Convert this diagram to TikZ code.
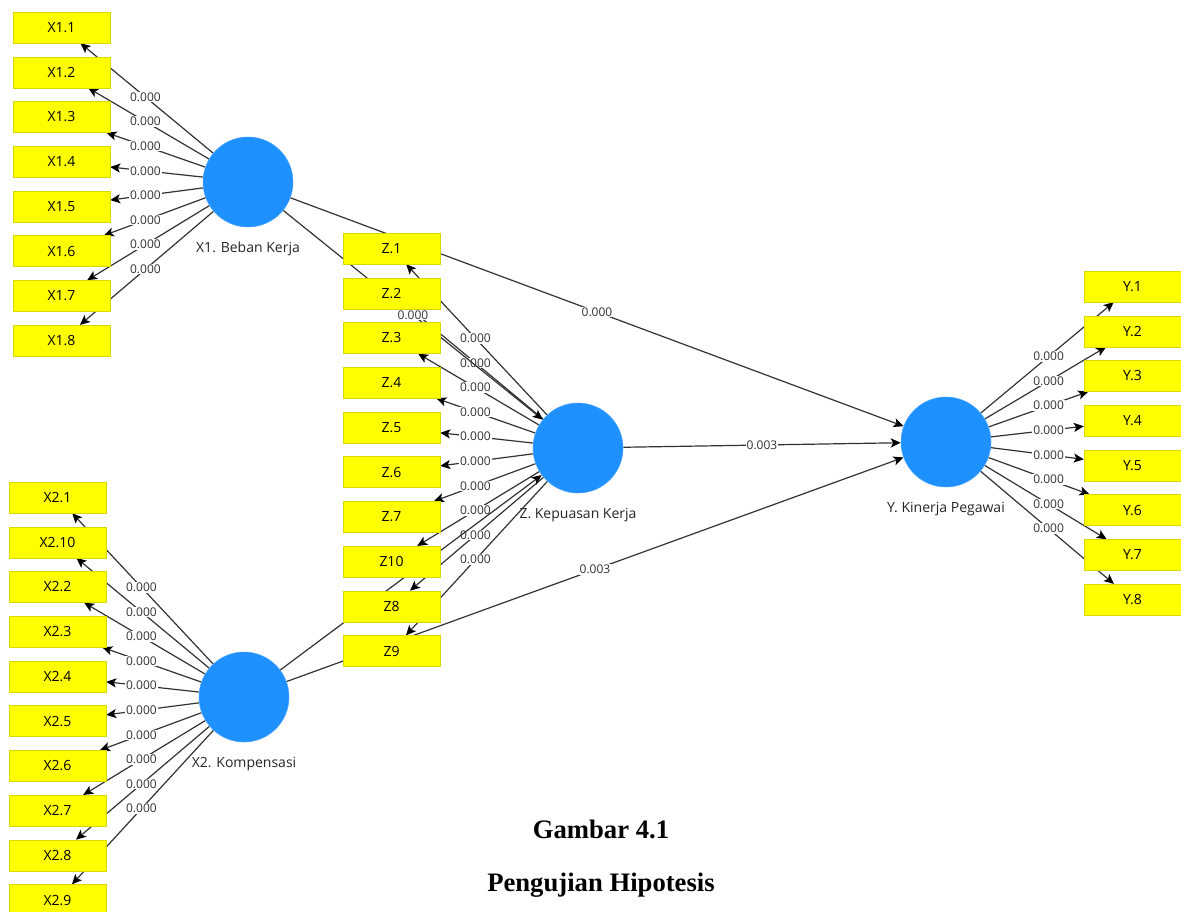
\documentclass[tikz,border=0pt]{standalone}
\usepackage{fontspec}
\setmainfont{Open Sans}
\newfontfamily\capfont{Liberation Serif}
\usetikzlibrary{arrows.meta,positioning,calc,backgrounds}
\definecolor{lvblue}{RGB}{30,144,255}
\definecolor{indyellow}{RGB}{255,255,0}
\definecolor{linegray}{RGB}{50,50,50}
\newcommand{\loadarrow}[2]{\draw[load](#1)--(#2);\node[val] (v#2) at ($(#1.center)!0.55!(#2.center)$) {0.000};}
\newcommand{\patharrow}[3]{\draw[load](#1)--(#2);\node[val] (p#1#2) at ($(#1.center)!0.5!(#2.center)$) {#3};}
\tikzset{
  ind/.style={rectangle, draw=indyellow!85!black, line width=0.3pt, fill=indyellow, minimum width=72.75pt,
              minimum height=23.25pt, inner sep=0pt, font=\fontsize{10.5}{12}\selectfont},
  lv/.style={circle, fill=lvblue, draw=lvblue!80!white, line width=0.4pt, minimum size=67.5pt, inner sep=0pt},
  lvlbl/.style={font=\fontsize{10.5}{12}\selectfont, inner sep=1pt, text=black!85},
  val/.style={fill=white, inner sep=0.6pt, font=\fontsize{9}{10}\selectfont, text=black!80},
  load/.style={-{Stealth[length=7.5pt, width=6.8pt, inset=1.8pt, color=black]}, draw=linegray, line width=0.9pt},
  captxt/.style={font=\capfont\bfseries\fontsize{20}{24}\selectfont}
}
\begin{document}
\begin{tikzpicture}[x=0.75pt, y=-0.75pt, node distance=10pt]
 \useasboundingbox (0,0) rectangle (1181,911);
 % latent variables
 \node[lv] (X1) at (248,182) {};
 \node[lvlbl, below=10pt of X1] (X1t) {X1. Beban Kerja};
 \node[lv] (X2) at (244,697) {};
 \node[lvlbl, below=10pt of X2] (X2t) {X2. Kompensasi};
 \node[lv] (Z) at (578,448) {};
 \node[lvlbl, below=10pt of Z] (Zt) {Z. Kepuasan Kerja};
 \node[lv] (Y) at (946,442) {};
 \node[lvlbl, below=10pt of Y] (Yt) {Y. Kinerja Pegawai};
 % X1 indicators
 \node[ind] (x11) at (61.5,27.5) {X1.1};
 \node[ind, below=of x11] (x12) {X1.2};
 \node[ind, below=of x12] (x13) {X1.3};
 \node[ind, below=of x13] (x14) {X1.4};
 \node[ind, below=of x14] (x15) {X1.5};
 \node[ind, below=of x15] (x16) {X1.6};
 \node[ind, below=of x16] (x17) {X1.7};
 \node[ind, below=of x17] (x18) {X1.8};
 % X2 indicators
 \node[ind] (x21) at (57.5,497.5) {X2.1};
 \node[ind, below=of x21] (x210) {X2.10};
 \node[ind, below=of x210] (x22) {X2.2};
 \node[ind, below=of x22] (x23) {X2.3};
 \node[ind, below=of x23] (x24) {X2.4};
 \node[ind, below=of x24] (x25) {X2.5};
 \node[ind, below=of x25] (x26) {X2.6};
 \node[ind, below=of x26] (x27) {X2.7};
 \node[ind, below=of x27] (x28) {X2.8};
 \node[ind, below=of x28] (x29) {X2.9};
 % Z indicators
 \node[ind] (z1) at (391.5,248.5) {Z.1};
 \node[ind, below=of z1] (z2) {Z.2};
 \node[ind, below=of z2] (z3) {Z.3};
 \node[ind, below=of z3] (z4) {Z.4};
 \node[ind, below=of z4] (z5) {Z.5};
 \node[ind, below=of z5] (z6) {Z.6};
 \node[ind, below=of z6] (z7) {Z.7};
 \node[ind, below=of z7] (z10) {Z10};
 \node[ind, below=of z10] (z8) {Z8};
 \node[ind, below=of z8] (z9) {Z9};
 % Y indicators
 \node[ind] (y1) at (1132.5,286.5) {Y.1};
 \node[ind, below=of y1] (y2) {Y.2};
 \node[ind, below=of y2] (y3) {Y.3};
 \node[ind, below=of y3] (y4) {Y.4};
 \node[ind, below=of y4] (y5) {Y.5};
 \node[ind, below=of y5] (y6) {Y.6};
 \node[ind, below=of y6] (y7) {Y.7};
 \node[ind, below=of y7] (y8) {Y.8};
 \begin{pgfonlayer}{background}
 % outer loadings
 \loadarrow{X1}{x11}\loadarrow{X1}{x12}\loadarrow{X1}{x13}\loadarrow{X1}{x14}
 \loadarrow{X1}{x15}\loadarrow{X1}{x16}\loadarrow{X1}{x17}\loadarrow{X1}{x18}
 \loadarrow{X2}{x21}\loadarrow{X2}{x210}\loadarrow{X2}{x22}\loadarrow{X2}{x23}\loadarrow{X2}{x24}
 \loadarrow{X2}{x25}\loadarrow{X2}{x26}\loadarrow{X2}{x27}\loadarrow{X2}{x28}\loadarrow{X2}{x29}
 \loadarrow{Z}{z1}\loadarrow{Z}{z2}\loadarrow{Z}{z3}\loadarrow{Z}{z4}\loadarrow{Z}{z5}
 \loadarrow{Z}{z6}\loadarrow{Z}{z7}\loadarrow{Z}{z10}\loadarrow{Z}{z8}\loadarrow{Z}{z9}
 \loadarrow{Y}{y1}\loadarrow{Y}{y2}\loadarrow{Y}{y3}\loadarrow{Y}{y4}
 \loadarrow{Y}{y5}\loadarrow{Y}{y6}\loadarrow{Y}{y7}\loadarrow{Y}{y8}
 % inner model
 \patharrow{X1}{Z}{0.000}\patharrow{X2}{Z}{0.002}
 \patharrow{X1}{Y}{0.000}\patharrow{Z}{Y}{0.003}\patharrow{X2}{Y}{0.003}
 \end{pgfonlayer}
 \node[captxt] (cap1) at (601,829) {Gambar 4.1};
 \node[captxt] (cap2) at (601,885) {Pengujian Hipotesis};
\end{tikzpicture}
\end{document}
